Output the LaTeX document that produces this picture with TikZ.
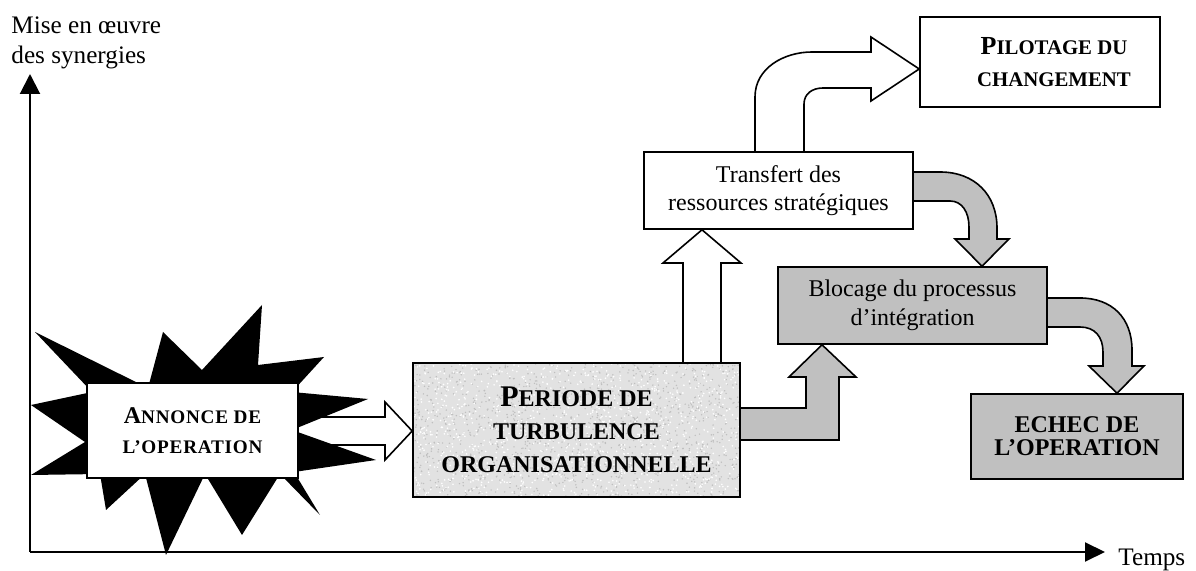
\documentclass[tikz,border=0pt]{standalone}
\usepackage{fontspec}
\setmainfont{Liberation Serif}
\usetikzlibrary{arrows.meta,calc}
\pgfdeclarelayer{bg}
\pgfsetlayers{bg,main}
\definecolor{boxgray}{RGB}{192,192,192}
\definecolor{texgray}{RGB}{226,226,226}
\tikzset{
  box/.style={draw, line width=0.8pt, align=center, inner sep=0pt},
  warrow/.style={draw, fill=white, line width=0.8pt, line join=miter},
  garrow/.style={draw, fill=boxgray, line width=0.8pt, line join=miter},
  axisline/.style={line width=1pt},
  lbl/.style={inner sep=0pt, align=left, font=\fontsize{12.6pt}{15pt}\selectfont},
  texture/.style={path picture={
    \pgfmathsetseed{11}
    \foreach \i in {1,...,1300}{
      \pgfmathsetmacro\rx{rnd*164}\pgfmathsetmacro\ry{rnd*67}
      \fill[gray!50] ([shift={(\rx pt,\ry pt)}]path picture bounding box.south west) circle (0.4pt);}
    \foreach \i in {1,...,1100}{
      \pgfmathsetmacro\rx{rnd*164}\pgfmathsetmacro\ry{rnd*67}
      \fill[white] ([shift={(\rx pt,\ry pt)}]path picture bounding box.south west) circle (0.45pt);}
  }}
}
\begin{document}
\begin{tikzpicture}[x=0.5pt,y=-0.5pt]
\useasboundingbox (0,0) rectangle (1196,571);

% axes
\coordinate (origin) at (30,552);
\coordinate (ytop) at (30,74);
\coordinate (xend) at (1105,552);
\draw[axisline,-{Triangle[length=10pt,width=10pt]}] (origin) -- (ytop);
\draw[axisline,-{Triangle[length=10pt,width=9.5pt]}] (origin) -- (xend);
\node[lbl, anchor=north west] (ylabel) at (11,16.5) {Mise en œuvre\\des synergies};
\node[lbl, anchor=base west] (xlabel) at (1118,566) {Temps};

% starburst
\fill (35,332) -- (148,388) -- (163,332) -- (202,370) -- (262,305) -- (258,365)
  -- (324,357) -- (292,392) -- (368,399) -- (292,430) -- (376,460) -- (294,472)
  -- (320,515) -- (280,474) -- (242,535) -- (205,474) -- (166,555) -- (145,474)
  -- (106,510) -- (100,474) -- (31,475) -- (85,442) -- (31,405) -- (92,392) -- cycle;

% boxes
\node[box, fill=white, minimum width=105.5pt, minimum height=47.5pt,
  font=\bfseries\fontsize{12pt}{15pt}\selectfont] (annonce) at (192.5,430.5)
  {A{\fontsize{9.6pt}{15pt}\selectfont\addfontfeature{LetterSpace=4}NNONCE DE}\\
   {\fontsize{9.6pt}{15pt}\selectfont\addfontfeature{LetterSpace=4}L’OPERATION}};
\node[box, fill=texgray, texture, minimum width=163.5pt, minimum height=67pt,
  font=\bfseries\fontsize{15pt}{16.5pt}\selectfont] (periode) at (576.5,430)
  {P{\fontsize{12pt}{16.5pt}\selectfont ERIODE DE}\\
   {\fontsize{12pt}{16.5pt}\selectfont TURBULENCE}\\
   {\fontsize{12pt}{16.5pt}\selectfont ORGANISATIONNELLE}};
\node[box, fill=white, minimum width=134.5pt, minimum height=38.5pt,
  font=\fontsize{12pt}{14pt}\selectfont] (transfert) at (778.5,190.5)
  {Transfert des\\ressources stratégiques};
\node[box, fill=white, minimum width=120pt, minimum height=45pt,
  font=\bfseries\fontsize{13pt}{16pt}\selectfont] (pilotage) at (1040,62)
  {\hspace*{14pt}P{\fontsize{10.4pt}{16pt}\selectfont ILOTAGE DU}\\
   \hspace*{14pt}{\fontsize{10.4pt}{16pt}\selectfont CHANGEMENT}};
\node[box, fill=boxgray, minimum width=134.5pt, minimum height=38.5pt,
  font=\fontsize{12pt}{14.5pt}\selectfont] (blocage) at (912.5,305.5)
  {Blocage du processus\\d’intégration};
\node[box, fill=boxgray, minimum width=106pt, minimum height=42.5pt,
  font=\bfseries\fontsize{12pt}{11.5pt}\selectfont] (echec) at (1077,436.5)
  {ECHEC DE\\L’OPERATION};

% block arrows
\begin{pgfonlayer}{bg}
\draw[warrow] (annonce.east |- 0,417) -- (385,417) -- (385,402) -- (periode.west |- 0,431)
  -- (385,460) -- (385,445) -- (annonce.east |- 0,445);
\draw[warrow] (periode.north -| 683,0) -- (683,263) -- (663,263) -- (transfert.south -| 702,0)
  -- (741,263) -- (721,263) -- (periode.north -| 721,0);
\draw[warrow] (transfert.north -| 755,0) -- (755,97) .. controls (755,68) and (784,52) .. (812,52)
  -- (871,52) -- (871,37) -- (pilotage.west |- 0,69) -- (871,101) -- (871,88) -- (823,88)
  .. controls (812,88) and (804,94) .. (804,104) -- (transfert.north -| 804,0);
\draw[garrow] (transfert.east |- 0,172) -- (940,172) .. controls (975,172) and (997,195) .. (997,228)
  -- (997,239) -- (1009,239) -- (blocage.north -| 982,0) -- (955,239) -- (969,239) -- (969,227)
  .. controls (969,212) and (962,201) .. (950,201) -- (transfert.east |- 0,201);
\draw[garrow] (blocage.east |- 0,298) -- (1080,298) .. controls (1112,298) and (1132,318) .. (1132,350)
  -- (1132,366) -- (1144,366) -- (echec.north -| 1117,0) -- (1089,366) -- (1103,366) -- (1103,352)
  .. controls (1103,337) and (1095,327) .. (1080,327) -- (blocage.east |- 0,327);
\draw[garrow] (periode.east |- 0,408) -- (806,408) -- (806,377) -- (789,377) -- (blocage.south -| 822,0)
  -- (856,377) -- (839,377) -- (839,440) -- (periode.east |- 0,440);
\end{pgfonlayer}
\end{tikzpicture}
\end{document}
